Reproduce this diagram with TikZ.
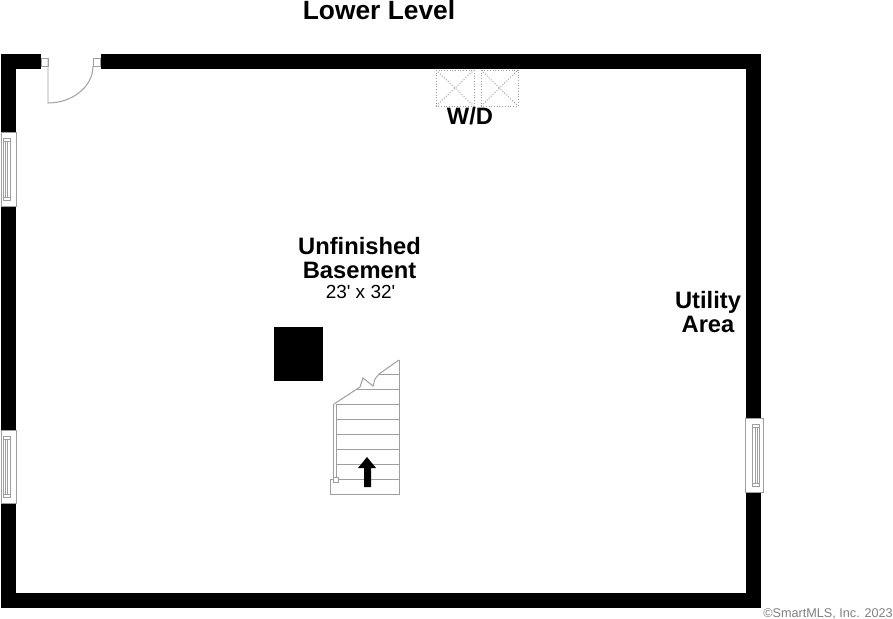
\documentclass[tikz,border=0pt]{standalone}
\usepackage{fontspec}
\setmainfont{Liberation Sans}
\usepackage{tikz}
\definecolor{linegray}{gray}{0.62}
\begin{document}
\begin{tikzpicture}[x=0.02cm,y=-0.02cm,
    wall/.style={fill=black,draw=none},
    thin line/.style={draw=linegray,line width=0.55pt},
    appliance/.style={draw=linegray,line width=0.55pt,densely dotted},
    heading/.style={font=\bfseries\fontsize{13.5}{14}\selectfont,align=center,inner sep=0pt},
    dims/.style={font=\fontsize{10.8}{11}\selectfont,inner sep=0pt}]
    \clip (0,0) rectangle (893,619);
    \useasboundingbox (0,0) rectangle (893,619);
    \fill[white] (0,0) rectangle (893,619);
    % walls
    \fill[wall] (1,54) rectangle (41,69);
    \fill[wall] (101,54) rectangle (761,69);
    \fill[wall] (1,54) rectangle (16,132);
    \fill[wall] (1,206) rectangle (16,430);
    \fill[wall] (1,503) rectangle (16,608);
    \fill[wall] (1,593) rectangle (761,608);
    \fill[wall] (746,54) rectangle (761,418);
    \fill[wall] (746,492) rectangle (761,608);
    % door
    \draw[thin line] (41,58) rectangle (48,66);
    \draw[thin line] (93,58) rectangle (100,66);
    \draw[thin line] (48,58) -- (48,103) .. controls (72,103) and (93,87) .. (93,66);
    % windows
    \foreach \xa/\xb/\xm/\ya/\yb in {1/16/6.5/132/206, 1/16/6.5/430/503, 745/763/756/418/492} {
        \draw[thin line,fill=white] (\xa,\ya) rectangle (\xb,\yb);
        \draw[thin line] (\xm-3.5,\ya+6) rectangle (\xm+3.5,\yb-6);
        \draw[thin line] (\xm-1,\ya+9) -- (\xm-1,\yb-9);
        \draw[thin line] (\xm+1,\ya+9) -- (\xm+1,\yb-9);
        \draw[thin line] (\xm-3.5,\ya+9) -- (\xm+3.5,\ya+9);
        \draw[thin line] (\xm-3.5,\yb-9) -- (\xm+3.5,\yb-9);
    }
    % washer and dryer
    \foreach \xa/\xb in {436/474, 481/518} {
        \draw[appliance] (\xa,70) rectangle (\xb,106);
        \draw[appliance] (\xa,70) -- (\xb,106);
        \draw[appliance] (\xa,106) -- (\xb,70);
    }
    % chimney
    \fill[black] (274,327) rectangle (323,381);
    % stairs
    \foreach \y in {404,419,434,449,464,479} {
        \draw[thin line] (337,\y) -- (399,\y);
    }
    \draw[thin line] (357,389) -- (399,389);
    \draw[thin line] (379,374) -- (399,374);
    \draw[thin line] (399,360) -- (399,494) -- (330,494) -- (330,479) -- (333,479);
    \draw[thin line] (334,404) -- (360,387) -- (363,378) -- (373,386) -- (375,379) -- (379,374) -- (399,360);
    \draw[thin line] (333,404) -- (333,477);
    \draw[thin line] (336,404) -- (336,477);
    \draw[thin line,fill=white] (333,477) rectangle (338,482);
    \fill[black] (364,487) -- (364,468) -- (358,468) -- (367,457) -- (376,468) -- (371,468) -- (371,487) -- cycle;
    % labels
    \node[heading,font=\bfseries\fontsize{15}{17}\selectfont] (title) at (379,10) {Lower Level};
    \node[heading] (wd) at (470,116) {W/D};
    \node[heading] (basement) at (359.5,258) {Unfinished\\Basement};
    \node[dims] (size) at (360.5,291.5) {23\textquotesingle{} x 32\textquotesingle};
    \node[heading] (utility) at (708,312) {Utility\\Area};
    \node[font=\fontsize{7.2}{8}\selectfont,text=gray,anchor=west,inner sep=0pt] (copy) at (763,614) {©SmartMLS, Inc. 2023};
\end{tikzpicture}
\end{document}
